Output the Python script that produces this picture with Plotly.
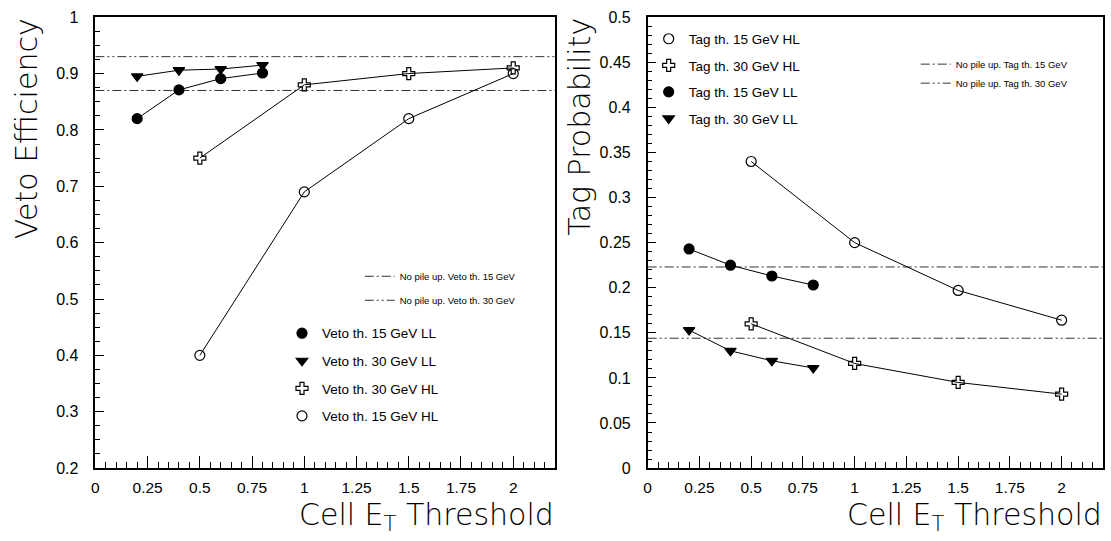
import plotly.graph_objects as go

# ---------------- data ----------------
x_LL = [0.2, 0.4, 0.6, 0.8]
x_HL = [0.5, 1.0, 1.5, 2.0]

veto15_LL = [0.820, 0.871, 0.891, 0.901]
veto30_LL = [0.895, 0.906, 0.908, 0.915]
veto30_HL = [0.750, 0.880, 0.900, 0.910]
veto15_HL = [0.400, 0.690, 0.820, 0.900]

tag15_HL = [0.340, 0.250, 0.197, 0.164]
tag30_HL = [0.160, 0.116, 0.095, 0.082]
tag15_LL = [0.243, 0.225, 0.213, 0.203]
tag30_LL = [0.153, 0.130, 0.119, 0.111]

nopileup_veto15 = 0.870
nopileup_veto30 = 0.930
nopileup_tag15 = 0.223
nopileup_tag30 = 0.144

X_RANGE = [0, 2.2]
Y_RANGE_L = [0.2, 1.0]
Y_RANGE_R = [0.0, 0.5]

W, H = 1111, 541
LBL_FONT = "Liberation Sans, Arial, sans-serif"
TITLE_FONT = "DejaVu Sans, sans-serif"

fig = go.Figure()

def series(x, y, sym, size, name, xa, ya, legend):
    fig.add_trace(go.Scatter(x=x, y=y, mode="lines", line=dict(color="black", width=1),
                             xaxis=xa, yaxis=ya, showlegend=False, hoverinfo="skip"))
    fig.add_trace(go.Scatter(x=x, y=y, mode="markers", name=name,
                             marker=dict(symbol=sym, size=size, color="black",
                                         line=dict(color="black", width=1.2)),
                             xaxis=xa, yaxis=ya, legend=legend, legendgroup=name))

def refline(v, dash, name, xa, ya, legend):
    fig.add_trace(go.Scatter(x=X_RANGE, y=[v, v], mode="lines", name=name,
                             line=dict(color="#333333", width=1, dash=dash),
                             xaxis=xa, yaxis=ya, legend=legend, legendgroup=name))

DASH1 = "9px,3px,2px,3px"
DASH2 = "9px,3px,2px,3px,2px,3px"

# left panel
refline(nopileup_veto15, DASH1, "No pile up. Veto th. 15 GeV", "x", "y", "legend2")
refline(nopileup_veto30, DASH2, "No pile up. Veto th. 30 GeV", "x", "y", "legend2")
series(x_LL, veto15_LL, "circle", 10, "Veto th. 15 GeV LL", "x", "y", "legend")
series(x_LL, veto30_LL, "triangle-down", 10, "Veto th. 30 GeV LL", "x", "y", "legend")
series(x_HL, veto30_HL, "cross-open", 10, "Veto th. 30 GeV HL", "x", "y", "legend")
series(x_HL, veto15_HL, "circle-open", 10, "Veto th. 15 GeV HL", "x", "y", "legend")

# right panel
refline(nopileup_tag15, DASH1, "No pile up. Tag th. 15 GeV", "x2", "y2", "legend4")
refline(nopileup_tag30, DASH2, "No pile up. Tag th. 30 GeV", "x2", "y2", "legend4")
series(x_HL, tag15_HL, "circle-open", 10, "Tag th. 15 GeV HL", "x2", "y2", "legend3")
series(x_HL, tag30_HL, "cross-open", 10, "Tag th. 30 GeV HL", "x2", "y2", "legend3")
series(x_LL, tag15_LL, "circle", 10, "Tag th. 15 GeV LL", "x2", "y2", "legend3")
series(x_LL, tag30_LL, "triangle-down", 10, "Tag th. 30 GeV LL", "x2", "y2", "legend3")

def px(x):
    return x / W

def py(y):
    return 1 - y / H

def xaxis(domain, anchor):
    return dict(domain=domain, anchor=anchor, range=X_RANGE, tick0=0, dtick=0.25,
                ticks="inside", ticklen=12, tickwidth=1, tickcolor="black",
                minor=dict(dtick=0.05, ticks="inside", ticklen=6, tickcolor="black", tickwidth=1),
                showline=True, linecolor="black", linewidth=1.5, mirror=True,
                showgrid=False, zeroline=False, ticklabelstandoff=5,
                tickfont=dict(family=LBL_FONT, size=15.5, color="black"))

def yaxis(domain, anchor, rng, dt, mdt):
    return dict(domain=domain, anchor=anchor, range=rng, tick0=0, dtick=dt,
                ticks="inside", ticklen=9, tickwidth=1, tickcolor="black",
                minor=dict(dtick=mdt, ticks="inside", ticklen=5, tickcolor="black", tickwidth=1),
                showline=True, linecolor="black", linewidth=1.5, mirror=True,
                showgrid=False, zeroline=False, ticklabelstandoff=12,
                tickfont=dict(family=LBL_FONT, size=16, color="black"))

ydom = [py(475), py(9.5)]
fig.update_layout(
    width=W, height=H, margin=dict(l=0, r=0, t=0, b=0),
    paper_bgcolor="white", plot_bgcolor="white",
    xaxis=xaxis([px(91.7), px(553)], "y"),
    yaxis=yaxis(ydom, "x", Y_RANGE_L, 0.1, 0.025),
    xaxis2=xaxis([px(646), px(1103)], "y2"),
    yaxis2=yaxis(ydom, "x2", Y_RANGE_R, 0.05, 0.01),
    legend=dict(x=px(279), y=py(320), xanchor="left", yanchor="top",
                bgcolor="rgba(0,0,0,0)", tracegroupgap=7, itemwidth=30,
                font=dict(family=LBL_FONT, size=13.5, color="black")),
    legend2=dict(x=px(357), y=py(262), xanchor="left", yanchor="top",
                 bgcolor="rgba(0,0,0,0)", tracegroupgap=5, itemwidth=30,
                 font=dict(family=LBL_FONT, size=9.5, color="black")),
    legend3=dict(x=px(647), y=py(16), xanchor="left", yanchor="top",
                 bgcolor="rgba(0,0,0,0)", tracegroupgap=6, itemwidth=30,
                 font=dict(family=LBL_FONT, size=13.5, color="black")),
    legend4=dict(x=px(915), y=py(43), xanchor="left", yanchor="top",
                 bgcolor="rgba(0,0,0,0)", tracegroupgap=0, itemwidth=30,
                 font=dict(family=LBL_FONT, size=9.5, color="black")),
    showlegend=True,
)

title_font = dict(family=TITLE_FONT, size=30, color="black", weight=200)
fig.add_annotation(text="Veto Efficiency", textangle=-90, xref="paper", yref="paper",
                   x=px(22), y=py(8), xanchor="center", yanchor="top",
                   showarrow=False, font=title_font)
fig.add_annotation(text="Tag Probability", textangle=-90, xref="paper", yref="paper",
                   x=px(578), y=py(8), xanchor="center", yanchor="top",
                   showarrow=False, font=title_font)
fig.add_annotation(text="Cell E<sub>T</sub> Threshold", xref="paper", yref="paper",
                   x=px(553), y=py(525), xanchor="right", yanchor="middle",
                   showarrow=False, font=title_font, borderpad=0)
fig.add_annotation(text="Cell E<sub>T</sub> Threshold", xref="paper", yref="paper",
                   x=px(1103), y=py(525), xanchor="right", yanchor="middle",
                   showarrow=False, font=title_font, borderpad=0)

fig.write_html("out.html")
